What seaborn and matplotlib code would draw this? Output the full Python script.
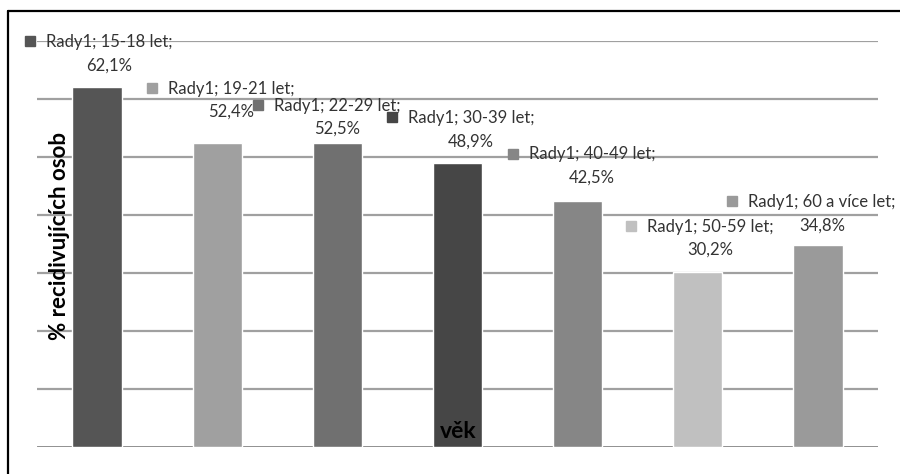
import numpy as np
import pandas as pd
import matplotlib.pyplot as plt
import matplotlib.transforms as mtransforms
from matplotlib.lines import Line2D
import seaborn as sns

# data
kategorie = ['15-18 let', '19-21 let', '22-29 let', '30-39 let', '40-49 let', '50-59 let', '60 a více let']
hodnoty = [62.1, 52.4, 52.5, 48.9, 42.5, 30.2, 34.8]
popisky = ['62,1%', '52,4%', '52,5%', '48,9%', '42,5%', '30,2%', '34,8%']
barvy = ['#555555', '#a0a0a0', '#707070', '#464646', '#868686', '#c0c0c0', '#9a9a9a']

# marker offset (pixels) of each data label relative to bar top
label_offsets = [(-67, 45.5), (-65, 55.5), (-79, 38), (-65.5, 46), (-65, 47), (-67, 46), (-85.5, 44)]

sns.set_style('white')
plt.rcParams['font.family'] = ['Lato', 'DejaVu Sans']

fig = plt.figure(figsize=(9, 4.74), dpi=100)
W, H = 900, 474
ax = fig.add_axes([37 / W, 27 / H, (878 - 37) / W, (447 - 41) / H])

df = pd.DataFrame({'vek': kategorie, 'pct': hodnoty})
sns.barplot(data=df, x='vek', y='pct', hue='vek', palette=barvy, legend=False,
            width=0.41, saturation=1, ax=ax, zorder=2)

ax.set_ylim(0, 70)
ax.set_xlim(-0.5, 6.5)
ax.set_yticks(np.arange(10, 71, 10))
ax.yaxis.grid(True, color='#a0a0a0', linewidth=1.6, zorder=0)
ax.set_axisbelow(True)
ax.axhline(0, color='#868686', linewidth=2, zorder=1)
ax.set_xticks([])
ax.tick_params(left=False, labelleft=False)
for s in ax.spines.values():
    s.set_visible(False)
ax.set_xlabel('')
ax.set_ylabel('')

# data labels: square marker + "Rady1; <cat>;" + value underneath
for i, (kat, v, txt) in enumerate(zip(kategorie, hodnoty, popisky)):
    dx, dy = label_offsets[i]
    tr_m = mtransforms.offset_copy(ax.transData, fig=fig, x=dx, y=dy, units='dots')
    ax.plot([i], [v], marker='s', markersize=7.3, color=barvy[i], transform=tr_m,
            clip_on=False, zorder=5)
    tr_t = mtransforms.offset_copy(ax.transData, fig=fig, x=dx + 16, y=dy + 7, units='dots')
    ax.text(i, v, 'Rady1; ' + kat + ';\n' + txt, transform=tr_t, ha='left', va='top',
            multialignment='center', fontsize=12, color='#333333', linespacing=1.55,
            zorder=6, clip_on=False)

fig.text(60 / W, 1 - 236 / H, '% recidivujících osob', rotation=90, ha='center', va='center',
         fontsize=16, fontweight='bold', color='black')
fig.text(458 / W, 1 - 432 / H, 'věk', ha='center', va='center',
         fontsize=16.5, fontweight='bold', color='black')

# chart frame (top and left edges visible)
fig.add_artist(Line2D([8 / W, 1], [1 - 11 / H, 1 - 11 / H], color='black', linewidth=1.6,
                      transform=fig.transFigure))
fig.add_artist(Line2D([8 / W, 8 / W], [0, 1 - 11 / H], color='black', linewidth=1.6,
                      transform=fig.transFigure))

fig.savefig('out.png', dpi=100)
